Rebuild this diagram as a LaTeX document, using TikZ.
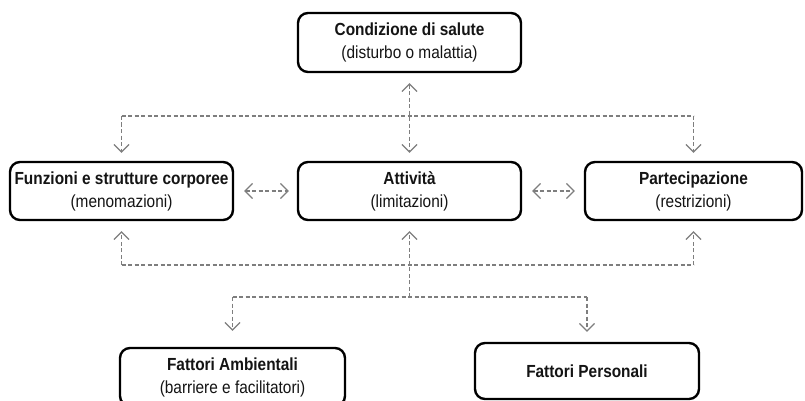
\documentclass[tikz,border=0pt]{standalone}
\usepackage{fontspec}
\setmainfont{Liberation Sans}[FakeStretch=0.88]
\usetikzlibrary{arrows.meta}
\definecolor{linegray}{HTML}{7E7E7E}
\definecolor{txt}{HTML}{141414}
\begin{document}
\begin{tikzpicture}[x=1pt,y=-1pt,
  box/.style={draw=black, line width=2.4pt, rounded corners=10pt, align=center,
    inner sep=2pt, text=txt, font=\fontsize{17.5}{23}\selectfont},
  conn/.style={draw=linegray, line width=1.1pt, dash pattern=on 4pt off 2.5pt,
    arrows={-}},
  tip/.style={-{Straight Barb[length=7.5pt,width=15pt,line width=1.2pt,sep=0pt]}},
  tips/.style={{Straight Barb[length=7.5pt,width=15pt,line width=1.2pt]}-{Straight Barb[length=7.5pt,width=15pt,line width=1.2pt]}}
]
\useasboundingbox (0,0) rectangle (805,401);
\fill[white] (0,0) rectangle (805,401);

\node[box, minimum width=223pt, minimum height=59pt] (top) at (409.5,42.5)
  {\textbf{Condizione di salute}\\(disturbo o malattia)};
\node[box, minimum width=223pt, minimum height=58pt] (left) at (121.5,191)
  {\textbf{Funzioni e strutture corporee}\\(menomazioni)};
\node[box, minimum width=223pt, minimum height=58pt] (mid) at (409.5,191)
  {\textbf{Attività}\\(limitazioni)};
\node[box, minimum width=217pt, minimum height=58pt] (right) at (693.5,191)
  {\textbf{Partecipazione}\\(restrizioni)};
\node[box, minimum width=225pt, minimum height=58pt] (bl) at (232.5,377)
  {\textbf{Fattori Ambientali}\\(barriere e facilitatori)};
\node[box, minimum width=224pt, minimum height=56pt] (br) at (587,371)
  {\textbf{Fattori Personali}};

% top branch
\coordinate (hb) at (409.5,116);
\draw[conn, tips] ([yshift=-10pt]top.south) -- ([yshift=8pt]mid.north);
\draw[conn] (left.north |- hb) -- (right.north |- hb);
\draw[conn, tip] (left.north |- hb) -- ([yshift=8pt]left.north);
\draw[conn, tip] (right.north |- hb) -- ([yshift=8pt]right.north);

% horizontal links
\draw[conn, tips] ([xshift=10pt]left.east) -- ([xshift=-8pt]mid.west);
\draw[conn, tips] ([xshift=10pt]mid.east) -- ([xshift=-9pt]right.west);

% bottom branch
\coordinate (bh) at (409.5,265);
\coordinate (fh) at (409.5,297);
\draw[conn] (left.south |- bh) -- (right.south |- bh);
\draw[conn, tip] (left.south |- bh) -- ([yshift=-10pt]left.south);
\draw[conn, tip] (right.south |- bh) -- ([yshift=-10pt]right.south);
\draw[conn, tip] (fh) -- ([yshift=-10pt]mid.south);
\draw[conn] (bl.north |- fh) -- (br.north |- fh);
\draw[conn, tip] (bl.north |- fh) -- ([yshift=16pt]bl.north);
\draw[conn, tip] (br.north |- fh) -- ([yshift=10pt]br.north);
\end{tikzpicture}
\end{document}
